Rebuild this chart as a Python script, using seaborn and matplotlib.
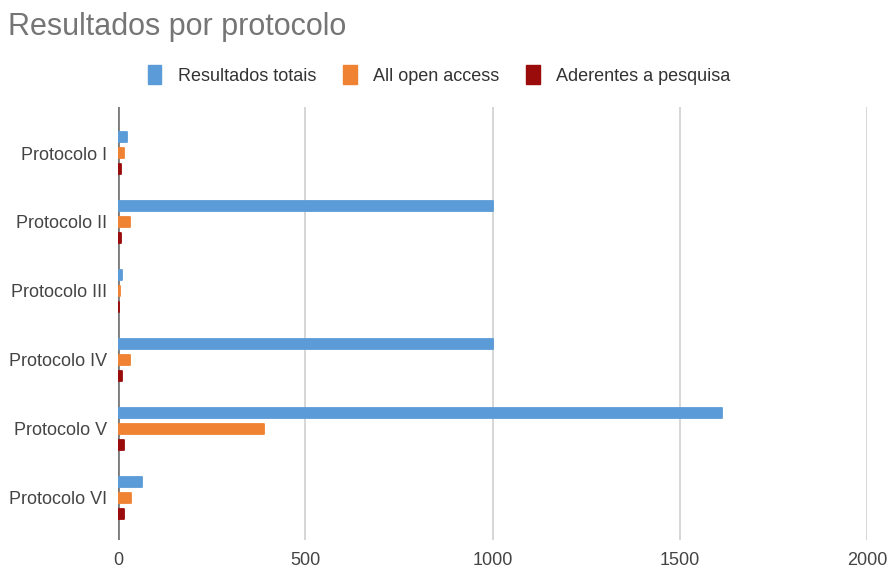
import matplotlib
matplotlib.use("Agg")
import matplotlib.pyplot as plt
import seaborn as sns
import pandas as pd

# Search results per protocol
protocolos = ["Protocolo I", "Protocolo II", "Protocolo III",
              "Protocolo IV", "Protocolo V", "Protocolo VI"]
resultados_totais = [23, 1000, 11, 1000, 1613, 65]
all_open_access = [16, 32, 6, 32, 390, 36]
aderentes_pesquisa = [8, 9, 4, 10, 16, 16]

series = ["Resultados totais", "All open access", "Aderentes a pesquisa"]
cores = ["#5b9bd8", "#ef8233", "#9a0b0b"]
x_ticks = [0, 500, 1000, 1500, 2000]

df = pd.DataFrame({
    "protocolo": protocolos * 3,
    "serie": [s for s in series for _ in protocolos],
    "valor": resultados_totais + all_open_access + aderentes_pesquisa,
})

sns.set_theme(style="white")
plt.rcParams["font.family"] = ["Liberation Sans", "DejaVu Sans"]

fig = plt.figure(figsize=(8.89, 5.69), dpi=100)
ax = fig.add_axes([118 / 889, 1 - 540 / 569, 749 / 889, 433 / 569])

sns.barplot(data=df, y="protocolo", x="valor", hue="serie",
            order=protocolos, hue_order=series, palette=cores,
            orient="h", width=0.696, dodge=True, legend=False, ax=ax,
            saturation=1)

# thin the bars and soften their corners
bar_h = 0.15
for p in ax.patches:
    cy = p.get_y() + p.get_height() / 2
    p.set_height(bar_h)
    p.set_y(cy - bar_h / 2)
    p.set_edgecolor(p.get_facecolor())
    p.set_linewidth(1.3)
    p.set_joinstyle("round")
    p.set_zorder(6)

ax.set_xlim(0, 2000)
ax.set_ylim(5.61, -0.667)
ax.set_xticks(x_ticks)
ax.set_xticklabels([str(v) for v in x_ticks])
ax.set_xlabel("")
ax.set_ylabel("")
for s in ax.spines.values():
    s.set_visible(False)
for v in x_ticks[1:]:
    ax.axvline(v, color="#d0d0d0", lw=1.2, zorder=0)
ax.axvline(0, color="#7a7a7a", lw=2.0, zorder=5)

ax.tick_params(axis="y", length=0, pad=7.5, labelsize=13, labelcolor="#444444")
ax.tick_params(axis="x", length=0, pad=8.5, labelsize=13, labelcolor="#444444")

# legend
handles = [plt.Rectangle((0, 0), 1, 1, color=c) for c in cores]
fig.legend(handles, series, loc="center", bbox_to_anchor=(0.494, 1 - 75 / 569),
           ncol=3, frameon=False, fontsize=13, handlelength=0.75,
           handleheight=1.25, handletextpad=0.9, columnspacing=1.5,
           labelcolor="#333333")

fig.text(8 / 889, 1 - 27 / 569, "Resultados por protocolo", fontsize=22,
         color="#757575", va="center", ha="left")

fig.savefig("out.png", dpi=100, facecolor="white")
